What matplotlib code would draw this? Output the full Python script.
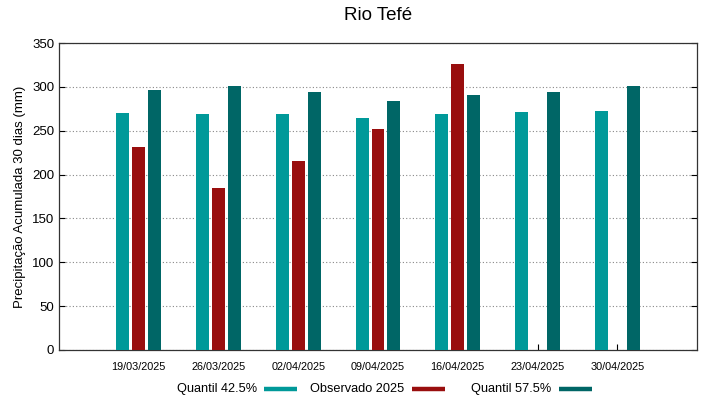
import matplotlib
matplotlib.use("Agg")
import matplotlib.pyplot as plt
import numpy as np
from matplotlib.lines import Line2D

plt.rcParams['font.family'] = ['Liberation Sans', 'DejaVu Sans']

dates = ["19/03/2025", "26/03/2025", "02/04/2025", "09/04/2025",
         "16/04/2025", "23/04/2025", "30/04/2025"]
q425 = [270, 268.5, 268.5, 265, 268.5, 271.5, 272.5]
obs2025 = [232, 185, 215, 252, 326.5, np.nan, np.nan]
q575 = [296.5, 300.5, 294, 284, 290.5, 294, 301.5]
labels = ["Quantil 42.5%", "Observado 2025", "Quantil 57.5%"]

c_q425 = "#009999"
c_obs = "#990e0e"
c_q575 = "#006666"
colors = [c_q425, c_obs, c_q575]

W, H = 719, 399
fig = plt.figure(figsize=(W/100, H/100), dpi=100)
ax = fig.add_axes([59/W, 1-350/H, (697-59)/W, (350-43)/H])

x = np.arange(1, len(dates)+1)
w = 0.1625
ax.bar(x-0.2, q425, width=w, color=c_q425, zorder=3)
ax.bar(x, obs2025, width=w, color=c_obs, zorder=3)
ax.bar(x+0.2, q575, width=w, color=c_q575, zorder=3)

ax.set_xlim(0, 8)
ax.set_ylim(0, 350)
ax.set_xticks(x)
ax.set_xticklabels(dates, fontsize=7.8)
ax.set_yticks(np.arange(0, 351, 50))
ax.tick_params(axis='y', labelsize=9.5, direction='in', right=True, length=4)
ax.tick_params(axis='x', direction='in', length=4, pad=9)
ax.yaxis.grid(True, linestyle=(0, (1, 2)), color='#888888', linewidth=0.8, zorder=0)
for s in ax.spines.values():
    s.set_linewidth(0.9)
    s.set_color('#333333')

ax.set_ylabel("Precipitação Acumulada 30 dias (mm)", fontsize=9.5)
fig.text(378/W, 1-16/H, "Rio Tefé", ha='center', va='center', fontsize=13.5)

# gnuplot-style legend: text then sample line
text_right = [257, 404, 551]
sample_x = [(264, 297), (412, 445), (559, 592)]
ly_text = 1 - 392/H
ly_line = 1 - 389/H
for lab, tr, (s0, s1), c in zip(labels, text_right, sample_x, colors):
    fig.text(tr/W, ly_text, lab, ha='right', va='baseline', fontsize=9.2)
    fig.add_artist(Line2D([s0/W, s1/W], [ly_line, ly_line], color=c, linewidth=3.2,
                          solid_capstyle='butt', transform=fig.transFigure))

fig.savefig("out.png", dpi=100)
